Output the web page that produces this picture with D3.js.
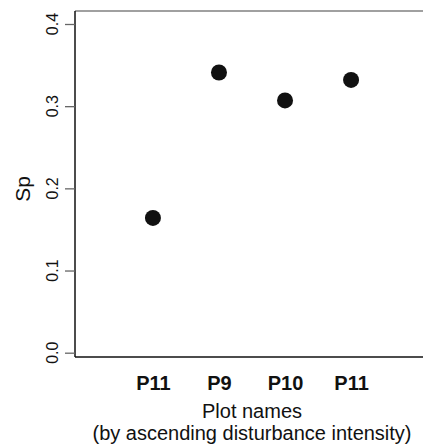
<!DOCTYPE html>
<html lang="en">
<head>
<meta charset="UTF-8">
<title>Sp by plot</title>
<script src="https://d3js.org/d3.v7.min.js"></script>
<style>
  body { margin: 0; background: #fff; }
  text { font-family: "Liberation Sans", Arial, sans-serif; fill: #111; }
</style>
</head>
<body>
<svg id="chart" width="423" height="448"></svg>
<script>
  // data
  const plotNames = ["P11", "P9", "P10", "P11"];
  const spValues = [0.164, 0.341, 0.307, 0.332];
  const yTicks = [0.0, 0.1, 0.2, 0.3, 0.4];

  const svg = d3.select("#chart");
  const box = { left: 75, right: 429, top: 11, bottom: 357 };

  const x = d3.scalePoint()
    .domain(d3.range(plotNames.length))
    .range([box.left, box.right])
    .padding(1.18);
  const y = d3.scaleLinear().domain([0, 0.4]).range([352.7, 24]);

  // frame: grey top, black left and bottom
  svg.append("line")
    .attr("x1", box.left).attr("x2", 423)
    .attr("y1", box.top).attr("y2", box.top)
    .attr("stroke", "#808080").attr("stroke-width", 1.5);
  svg.append("line")
    .attr("x1", box.left).attr("x2", box.left)
    .attr("y1", box.top).attr("y2", box.bottom)
    .attr("stroke", "#111").attr("stroke-width", 1.5);
  svg.append("line")
    .attr("x1", box.left).attr("x2", 423)
    .attr("y1", box.bottom).attr("y2", box.bottom)
    .attr("stroke", "#111").attr("stroke-width", 1.5);

  // y axis: ticks from d3, labels rotated by hand
  const yAxis = svg.append("g")
    .attr("transform", `translate(${box.left},0)`)
    .call(d3.axisLeft(y).tickValues(yTicks).tickSize(10).tickFormat(""));
  yAxis.select(".domain").remove();
  yAxis.selectAll(".tick line").attr("stroke", "#666").attr("stroke-width", 1.3);

  svg.append("g").selectAll("text")
    .data(yTicks)
    .join("text")
    .attr("transform", d => `translate(58,${y(d)}) rotate(-90)`)
    .attr("text-anchor", "middle")
    .attr("font-size", 16)
    .attr("fill", "#2a2a2a")
    .text(d3.format(".1f"));

  svg.append("text")
    .attr("transform", "translate(30,189) rotate(-90)")
    .attr("text-anchor", "middle")
    .attr("font-size", 21)
    .text("Sp");

  // x axis labels
  const xAxis = svg.append("g")
    .attr("transform", `translate(0,${box.bottom})`)
    .call(d3.axisBottom(x).tickSize(0).tickFormat(i => plotNames[i]));
  xAxis.select(".domain").remove();
  xAxis.selectAll(".tick text")
    .attr("y", 33).attr("dy", 0)
    .style("font-size", "20px")
    .style("font-weight", "bold")
    .style("fill", "#111");

  svg.append("text")
    .attr("x", 252).attr("y", 418)
    .attr("text-anchor", "middle")
    .attr("font-size", 20)
    .text("Plot names");
  svg.append("text")
    .attr("x", 252).attr("y", 440)
    .attr("text-anchor", "middle")
    .attr("font-size", 20)
    .text("(by ascending disturbance intensity)");

  // points
  svg.append("g").selectAll("circle")
    .data(spValues)
    .join("circle")
    .attr("cx", (d, i) => x(i))
    .attr("cy", d => y(d))
    .attr("r", 8)
    .attr("fill", "#111");
</script>
</body>
</html>
